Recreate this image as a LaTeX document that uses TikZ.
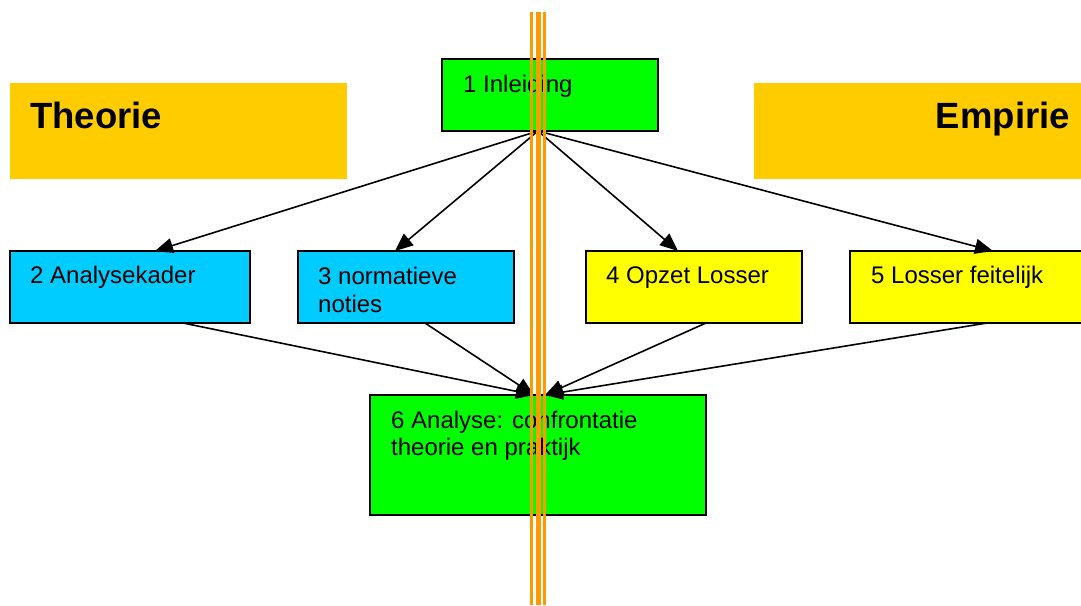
\documentclass[tikz,border=0pt]{standalone}
\usepackage{fontspec}
\setmainfont{Liberation Sans}
\usetikzlibrary{arrows.meta}
\definecolor{boxgreen}{HTML}{00FF00}
\definecolor{boxcyan}{HTML}{00CCFF}
\definecolor{boxyellow}{HTML}{FFFF00}
\definecolor{bandgold}{HTML}{FFCC00}
\definecolor{rulerorange}{HTML}{FF9900}
\begin{document}
\begin{tikzpicture}[x=1pt,y=-1pt,
  box/.style={draw=black,line width=1.5pt,anchor=north west,inner sep=0pt,outer sep=0pt},
  band/.style={fill=bandgold,anchor=north west,inner sep=0pt,outer sep=0pt},
  lbl/.style={anchor=base west,inner sep=0pt,font=\fontsize{24}{28}\selectfont},
  head/.style={inner sep=0pt,font=\fontsize{36.5}{40}\selectfont\bfseries},
  arr/.style={line width=1.6pt,-{Triangle[length=18pt,width=15pt]}},
  ruler/.style={draw=rulerorange}]
\useasboundingbox (0,0) rectangle (1081,605);

% title bands
\node[band,minimum width=337pt,minimum height=96pt] (theo) at (10,83) {};
\node[band,minimum width=340pt,minimum height=96pt] (emp) at (754,83) {};
\node[head,anchor=base west] (theot) at (30,128) {Theorie};
\node[head,anchor=base east] (empt) at (1070,128) {Empirie};

% chapter boxes
\node[box,fill=boxgreen,minimum width=216pt,minimum height=72pt] (b1) at (442,59) {};
\node[box,fill=boxcyan,minimum width=240pt,minimum height=72pt] (b2) at (10,251) {};
\node[box,fill=boxcyan,minimum width=216pt,minimum height=72pt] (b3) at (298,251) {};
\node[box,fill=boxyellow,minimum width=216pt,minimum height=72pt] (b4) at (586,251) {};
\node[box,fill=boxyellow,minimum width=240pt,minimum height=72pt] (b5) at (850,251) {};
\node[box,fill=boxgreen,minimum width=336pt,minimum height=120pt] (b6) at (370,395) {};

% box labels
\node[lbl] (t1) at (463,92) {1 Inleiding};
\node[lbl] (t2) at (30,283) {2 Analysekader};
\node[lbl] (t3a) at (318,284) {3 normatieve};
\node[lbl] (t3b) at (318,312) {noties};
\node[lbl] (t4) at (606,283) {4 Opzet Losser};
\node[lbl] (t5) at (871,283) {5 Losser feitelijk};
\node[lbl] (t6a) at (391,428) {6 Analyse: confrontatie};
\node[lbl] (t6b) at (391,455) {theorie en praktijk};

% introduction fans out to the four parts
\draw[arr] ([xshift=-12pt]b1.south) -- ([xshift=145pt]b2.north west);
\draw[arr] ([xshift=-12pt]b1.south) -- ([xshift=97pt]b3.north west);
\draw[arr] ([xshift=-12pt]b1.south) -- ([xshift=92pt]b4.north west);
\draw[arr] ([xshift=-12pt]b1.south) -- ([xshift=143pt]b5.north west);

% the four parts converge on the analysis
\draw[arr] ([xshift=173pt]b2.south west) -- ([xshift=-4pt]b6.north);
\draw[arr] ([xshift=127pt]b3.south west) -- ([xshift=-4pt]b6.north);
\draw[arr] ([xshift=120pt]b4.south west) -- ([xshift=7pt]b6.north);
\draw[arr] ([xshift=137pt]b5.south west) -- ([xshift=7pt]b6.north);

% vertical divider
\coordinate (rtop) at (538,12);
\coordinate (rbot) at (538,605);
\draw[ruler,line width=3pt] ([xshift=-6.7pt]rtop) -- ([xshift=-6.7pt]rbot);
\draw[ruler,line width=5pt] (rtop) -- (rbot);
\draw[ruler,line width=3pt] ([xshift=6.7pt]rtop) -- ([xshift=6.7pt]rbot);
\end{tikzpicture}
\end{document}
